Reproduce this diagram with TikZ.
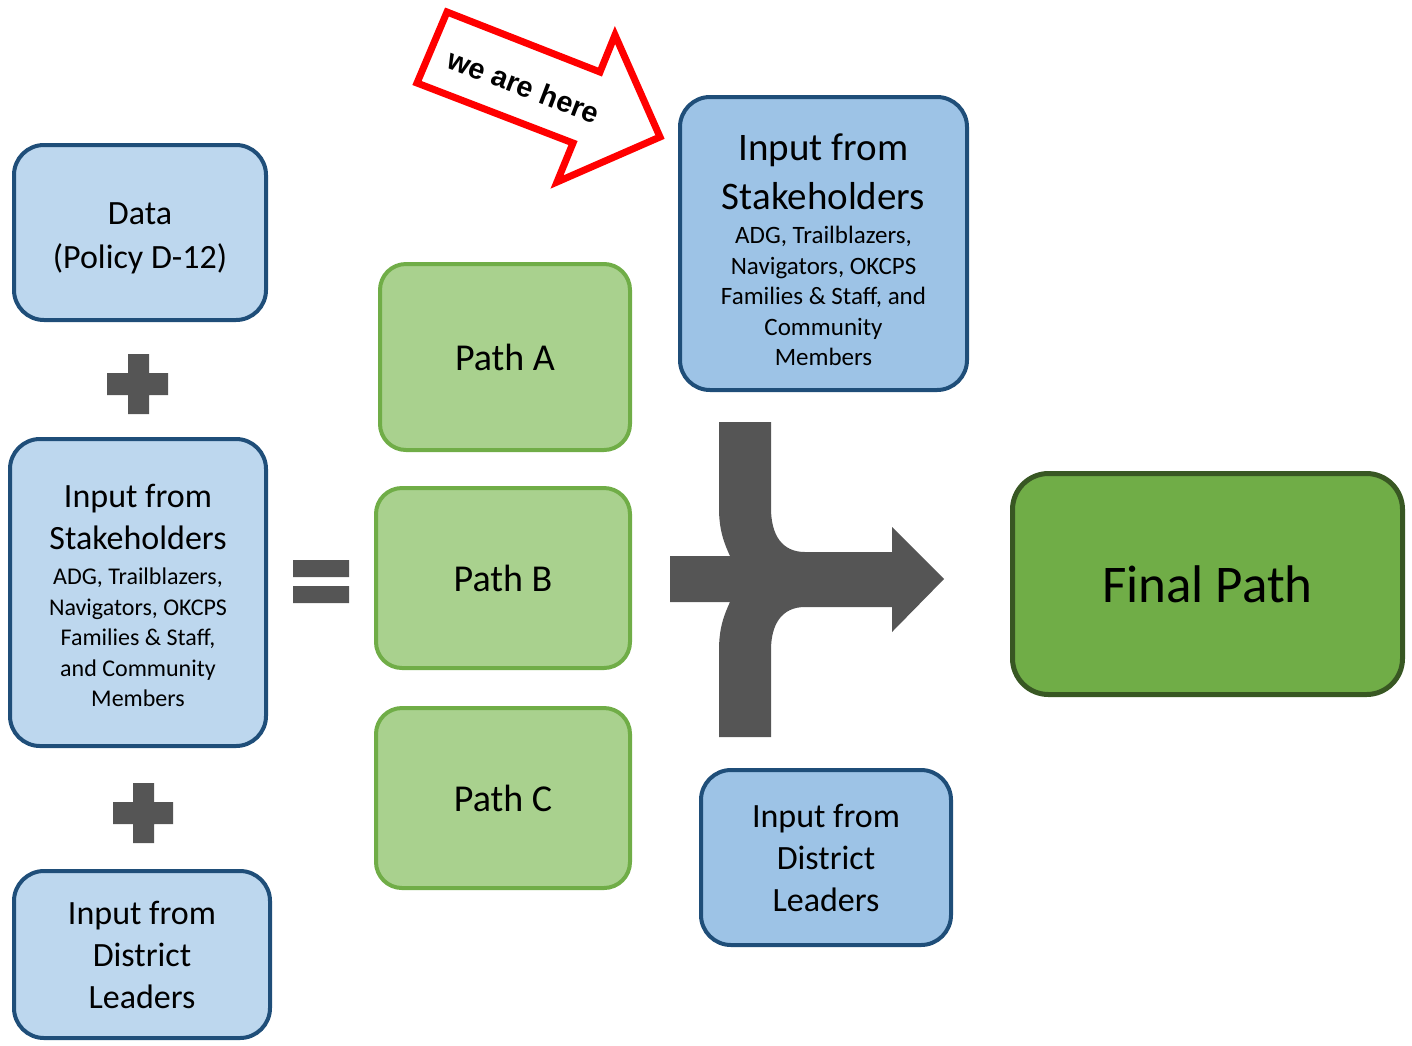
\documentclass[tikz,border=0pt]{standalone}
\usepackage{fontspec}
\setmainfont{Carlito}
\newfontfamily\herefont{Liberation Sans}
\definecolor{lightblue}{RGB}{189,215,238}
\definecolor{midblue}{RGB}{157,195,230}
\definecolor{boxblue}{RGB}{31,78,121}
\definecolor{lightgreen}{RGB}{169,209,142}
\definecolor{midgreen}{RGB}{112,173,71}
\definecolor{darkgreen}{RGB}{56,87,35}
\definecolor{opgray}{RGB}{85,85,85}
\usetikzlibrary{positioning}
\newcommand{\detailtext}[2]{{\fontsize{#1}{30.5}\selectfont\begin{tabular}[t]{@{}c@{}}#2\end{tabular}}}
\newcommand{\topgap}[1]{\rule{0pt}{#1}}
\tikzset{
    bluebox/.style={
        rectangle,
        draw=boxblue,
        line width=4pt,
        fill=lightblue,
        rounded corners=30pt,
        inner sep=0pt,
        align=center,
        font=\fontsize{34}{42}\selectfont
    },
    pathbox/.style={
        rectangle,
        draw=midgreen,
        line width=4pt,
        fill=lightgreen,
        rounded corners=26pt,
        inner sep=0pt,
        align=center,
        font=\fontsize{38}{46}\selectfont
    },
    finalbox/.style={
        pathbox,
        draw=darkgreen,
        line width=5pt,
        fill=midgreen,
        rounded corners=36pt,
        font=\fontsize{53}{60}\selectfont
    },
    herearrow/.style={draw=red, line width=7pt, fill=white, line join=miter}
}

\begin{document}
\begin{tikzpicture}[x=1pt, y=-1pt]
      \useasboundingbox (0,0) rectangle (1412,1045);

      % left column
      \node[bluebox, minimum width=252pt, minimum height=175pt] (data) at (140,232.5) {\topgap{34pt}Data\\[2pt](Policy D-12)};
      \node[bluebox, minimum width=256pt, minimum height=307pt] (stakeL) at (138,592.5)
        {\topgap{39pt}Input from\\Stakeholders\\[-7pt]\detailtext{24}{ADG, Trailblazers,\\Navigators, OKCPS\\Families \& Staff,\\and Community\\Members}};
      \node[bluebox, minimum width=256pt, minimum height=167pt] (leadL) at (142,954.5) {Input from\\District\\Leaders};

      \fill[opgray] (107,373) rectangle (168,395) (128,354) rectangle (149,414);
      \fill[opgray] (113,802) rectangle (173,824) (133,783) rectangle (154,843);
      \fill[opgray] (293,560) rectangle (349,577) (293,586) rectangle (349,603);

      % paths
      \node[pathbox, minimum width=250pt, minimum height=186pt] (pathA) at (505,357) {Path A};
      \node[pathbox, minimum width=254pt, minimum height=180pt] (pathB) at (503,578) {Path B};
      \node[pathbox, minimum width=254pt, minimum height=180pt] (pathC) at (503,798) {Path C};

      % inputs that merge
      \node[bluebox, fill=midblue, minimum width=287pt, minimum height=293pt, font=\fontsize{39}{49}\selectfont] (stakeR) at (823.5,243.5)
        {\topgap{49pt}Input from\\Stakeholders\\[-15pt]\detailtext{25}{ADG, Trailblazers,\\Navigators, OKCPS\\Families \& Staff, and\\Community\\Members}};
      \node[bluebox, fill=midblue, minimum width=250pt, minimum height=175pt] (leadR) at (826,857.5) {Input from\\District\\Leaders};

      \fill[opgray] (719,422) -- (771,422) -- (771,508) .. controls (771,535) and (782,552) .. (805,552)
        -- (892,552) -- (892,527) -- (944,579) -- (892,632) -- (892,607) -- (805,607)
        .. controls (782,607) and (771,624) .. (771,650) -- (771,737) -- (719,737) -- (719,650)
        .. controls (719,628) and (724,615) .. (730,602) -- (670,602) -- (670,556) -- (730,556)
        .. controls (724,543) and (719,530) .. (719,508) -- cycle;

      \node[finalbox, minimum width=390pt, minimum height=221pt] (final) at (1207.5,584) {Final Path};

      % we are here
      \draw[herearrow] (447,12) -- (600,72) -- (615,35) -- (660,137) -- (557,182) -- (573,143) -- (417,83) -- cycle;
      \node[rotate=-21, font=\herefont\bfseries\fontsize{29}{32}\selectfont] (here) at (524,86) {we are here};
    \end{tikzpicture}
\end{document}
